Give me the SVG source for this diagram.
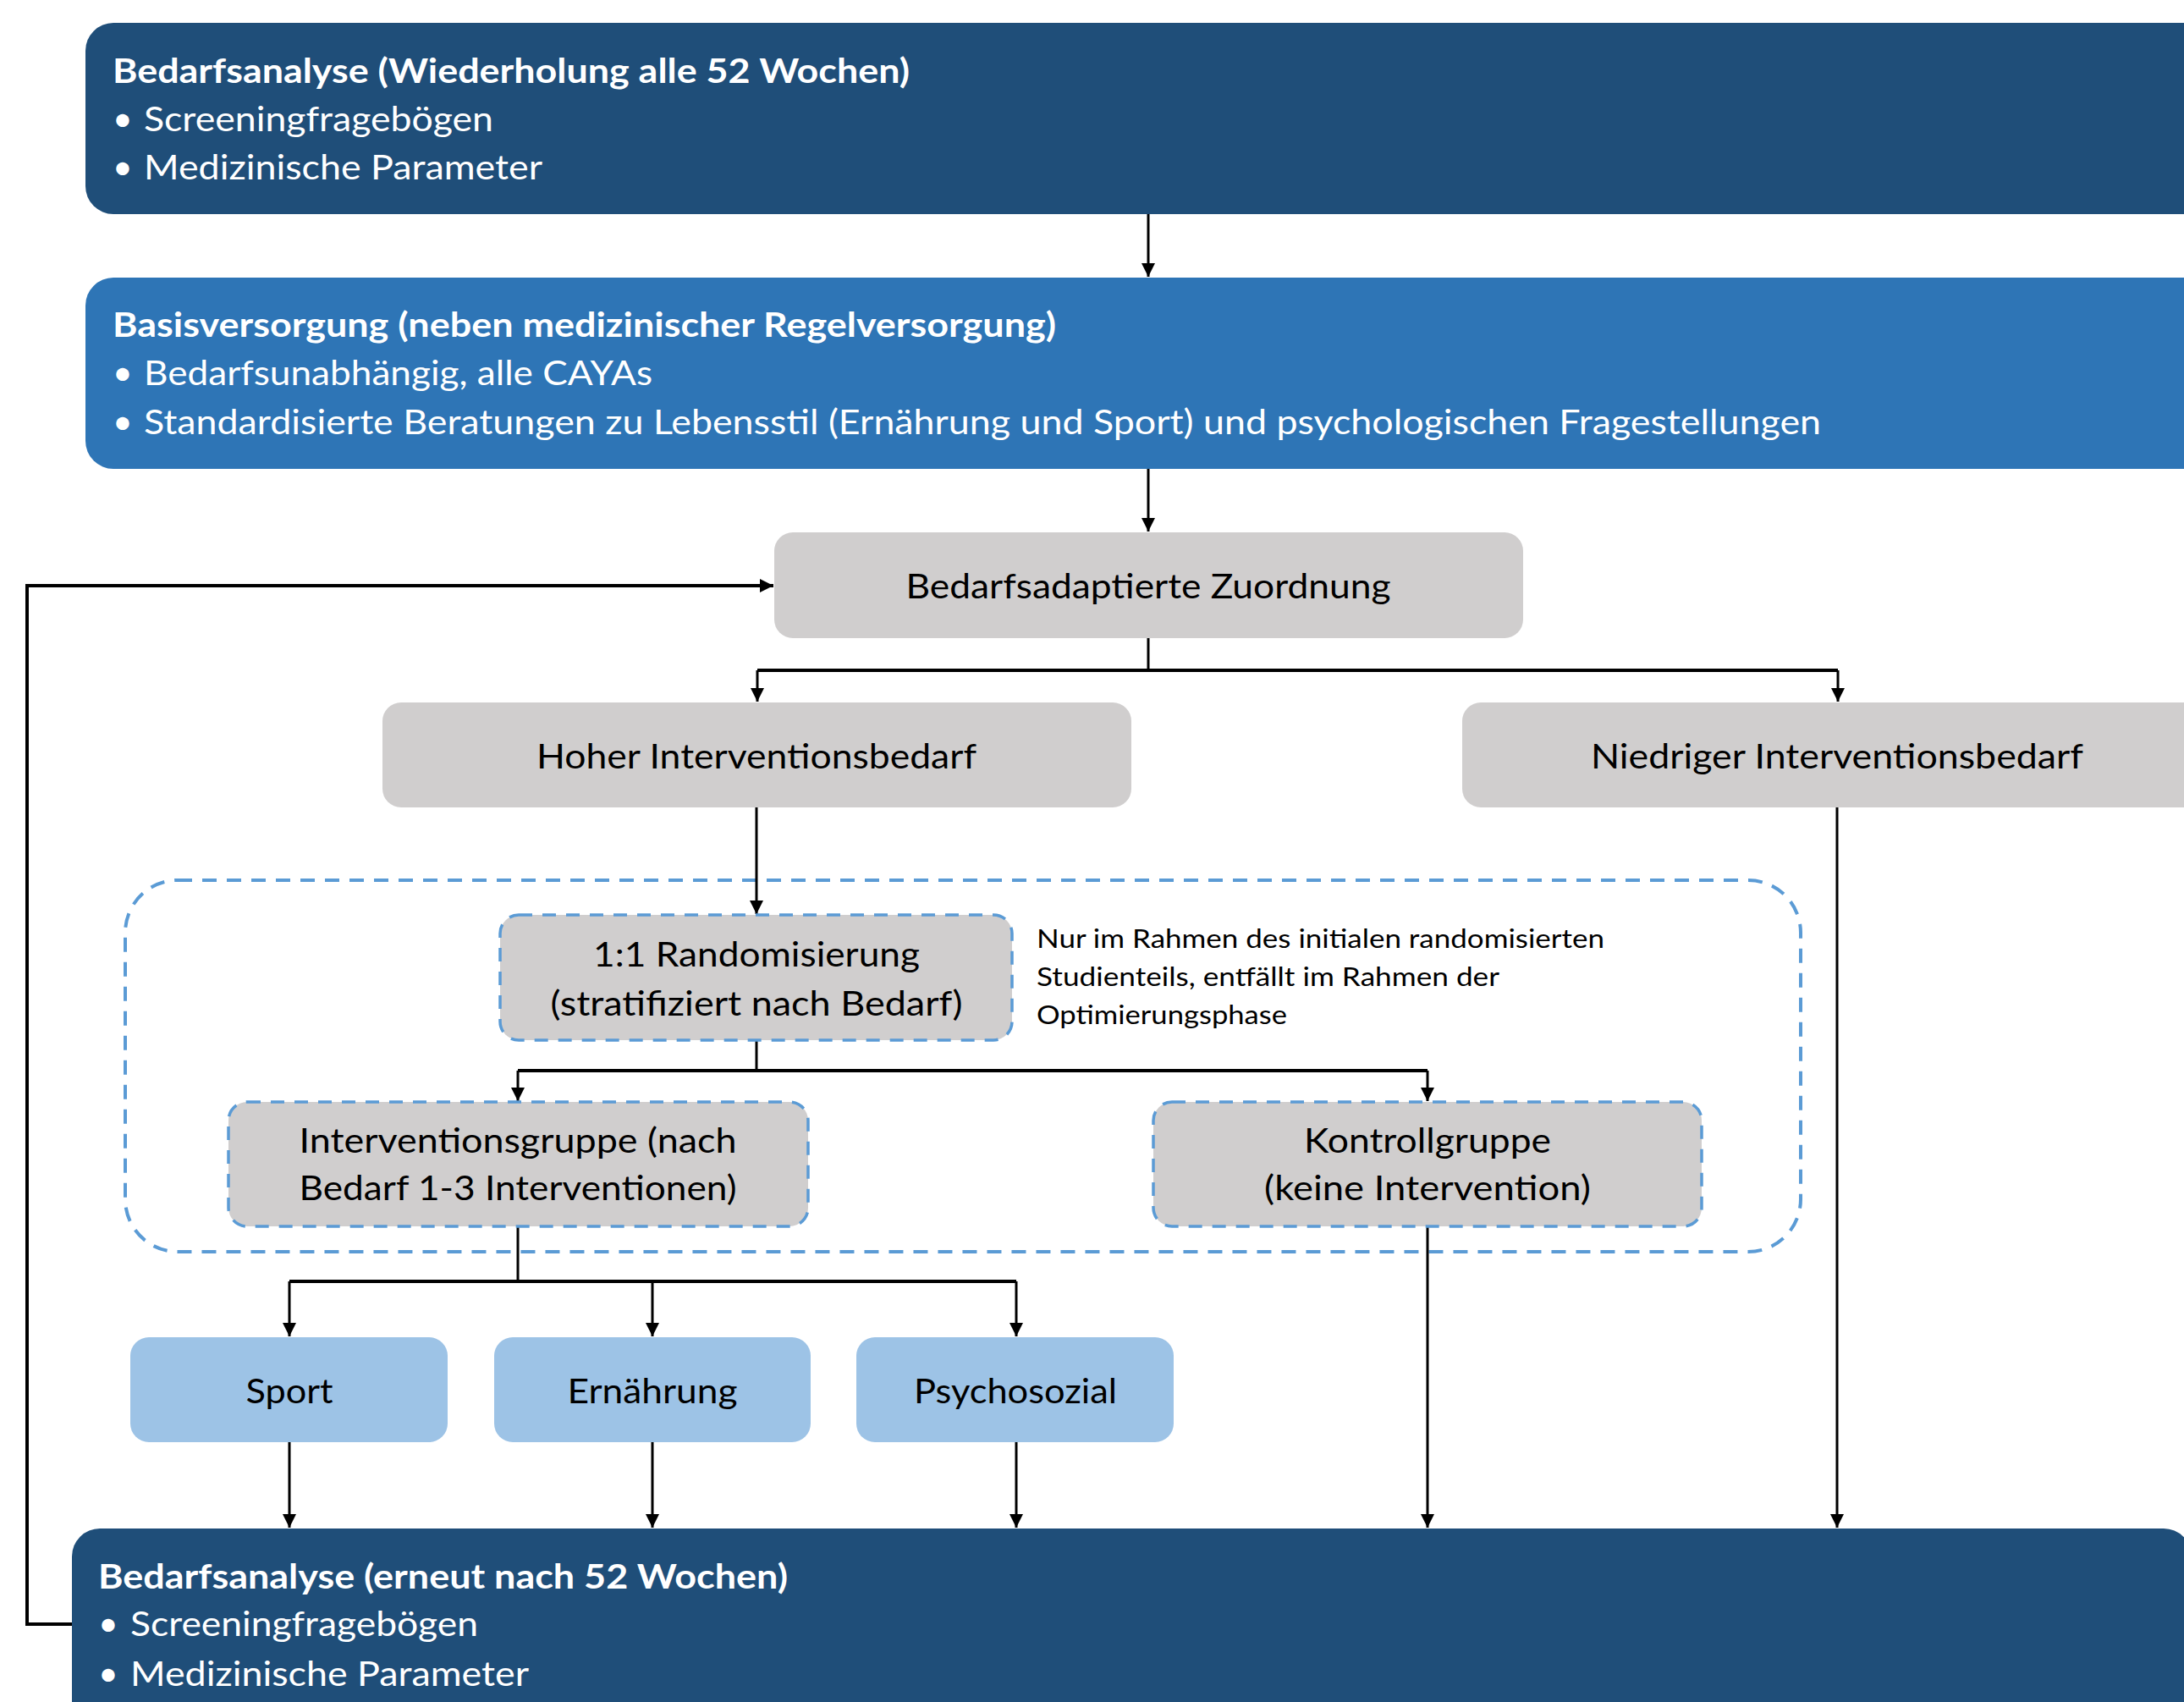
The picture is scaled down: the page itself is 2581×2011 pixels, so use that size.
<svg xmlns="http://www.w3.org/2000/svg" width="2581" height="2011" viewBox="0 0 2581 2011">
<defs>
<marker id="arr" viewBox="0 0 16 16" refX="16" refY="8" markerWidth="16" markerHeight="16" markerUnits="userSpaceOnUse" orient="auto"><path d="M0,0 L16,8 L0,16 z" fill="#000"/></marker>
<style>
text{font-family:Lato,"Open Sans","Liberation Sans",sans-serif;}
.w{fill:#fff;font-size:41px;}
.wb{fill:#fff;font-size:41px;font-weight:bold;}
.k{fill:#000;font-size:41px;text-anchor:middle;}
.s{fill:#000;font-size:30px;}
.dark{fill:#1F4E79;}
.mid{fill:#2E75B6;}
.gray{fill:#D0CECE;}
.lb{fill:#9DC3E6;}
.dash{fill:#D0CECE;stroke:#5B9BD5;stroke-width:3.5;stroke-dasharray:16 12;}
.c{fill:none;stroke:#000;stroke-width:3;}
.ca{fill:none;stroke:#000;stroke-width:3;marker-end:url(#arr);}
.t{fill:none;stroke:#000;stroke-width:4;}
</style>
</defs>
<rect width="2581" height="2011" fill="#fff"/>
<g id="container">
<rect x="148" y="1040" width="1980" height="439" rx="62" fill="none" stroke="#5B9BD5" stroke-width="4" stroke-dasharray="17 12"/>
</g>
<g id="connectors">
<path class="ca" d="M1357 253 V327"/>
<path class="ca" d="M1357 554 V628"/>
<path d="M85 1919 H32 V692 H914" fill="none" stroke="#000" stroke-width="4" marker-end="url(#arr)"/>
<path class="c" d="M1357 754 V792"/>
<path class="t" d="M895 792 H2172"/>
<path class="ca" d="M895 792 V829"/>
<path class="ca" d="M2172 792 V829"/>
<path class="ca" d="M894 954 V1080"/>
<path class="c" d="M894 1229 V1265"/>
<path class="t" d="M612 1265 H1687"/>
<path class="ca" d="M612 1265 V1301"/>
<path class="ca" d="M1687 1265 V1301"/>
<path class="c" d="M612 1449 V1514"/>
<path class="t" d="M342 1514 H1201"/>
<path class="ca" d="M342 1514 V1579"/>
<path class="ca" d="M771 1514 V1579"/>
<path class="ca" d="M1201 1514 V1579"/>
<path class="ca" d="M342 1704 V1805"/>
<path class="ca" d="M771 1704 V1805"/>
<path class="ca" d="M1201 1704 V1805"/>
<path class="ca" d="M1687 1449 V1805"/>
<path class="ca" d="M2171 954 V1805"/>
</g>
<g id="bedarfsanalyse-top">
<rect class="dark" x="101" y="27" width="2600" height="226" rx="33"/>
<text class="wb" x="133" y="98" textLength="942" lengthAdjust="spacingAndGlyphs">Bedarfsanalyse (Wiederholung alle 52 Wochen)</text>
<text class="w" x="133" y="155">•</text>
<text class="w" x="170" y="155" textLength="413" lengthAdjust="spacingAndGlyphs">Screeningfragebögen</text>
<text class="w" x="133" y="212">•</text>
<text class="w" x="170" y="212" textLength="471" lengthAdjust="spacingAndGlyphs">Medizinische Parameter</text>
</g>
<g id="basisversorgung">
<rect class="mid" x="101" y="328" width="2600" height="226" rx="33"/>
<text class="wb" x="133" y="398" textLength="1115" lengthAdjust="spacingAndGlyphs">Basisversorgung (neben medizinischer Regelversorgung)</text>
<text class="w" x="133" y="455">•</text>
<text class="w" x="170" y="455" textLength="601" lengthAdjust="spacingAndGlyphs">Bedarfsunabhängig, alle CAYAs</text>
<text class="w" x="133" y="513">•</text>
<text class="w" x="170" y="513" textLength="1982" lengthAdjust="spacingAndGlyphs">Standardisierte Beratungen zu Lebensstil (Ernährung und Sport) und psychologischen Fragestellungen</text>
</g>
<g id="zuordnung">
<rect class="gray" x="915" y="629" width="885" height="125" rx="22"/>
<text class="k" x="1357" y="707" textLength="573" lengthAdjust="spacingAndGlyphs">Bedarfsadaptierte Zuordnung</text>
</g>
<g id="hoher">
<rect class="gray" x="452" y="830" width="885" height="124" rx="22"/>
<text class="k" x="894" y="908" textLength="520" lengthAdjust="spacingAndGlyphs">Hoher Interventionsbedarf</text>
</g>
<g id="niedriger">
<rect class="gray" x="1728" y="830" width="900" height="124" rx="22"/>
<text class="k" x="2171" y="908" textLength="582" lengthAdjust="spacingAndGlyphs">Niedriger Interventionsbedarf</text>
</g>
<g id="randomisierung">
<rect class="dash" x="591" y="1081" width="605" height="148" rx="22"/>
<text class="k" x="894" y="1142" textLength="386" lengthAdjust="spacingAndGlyphs">1:1 Randomisierung</text>
<text class="k" x="894" y="1200" textLength="487" lengthAdjust="spacingAndGlyphs">(stratifiziert nach Bedarf)</text>
</g>
<g id="hinweis">
<text class="s" x="1225" y="1120" textLength="671" lengthAdjust="spacingAndGlyphs">Nur im Rahmen des initialen randomisierten</text>
<text class="s" x="1225" y="1165" textLength="547" lengthAdjust="spacingAndGlyphs">Studienteils, entfällt im Rahmen der</text>
<text class="s" x="1225" y="1210" textLength="296" lengthAdjust="spacingAndGlyphs">Optimierungsphase</text>
</g>
<g id="interventionsgruppe">
<rect class="dash" x="270" y="1302" width="685" height="147" rx="22"/>
<text class="k" x="612" y="1362" textLength="517" lengthAdjust="spacingAndGlyphs">Interventionsgruppe (nach</text>
<text class="k" x="612" y="1418" textLength="517" lengthAdjust="spacingAndGlyphs">Bedarf 1-3 Interventionen)</text>
</g>
<g id="kontrollgruppe">
<rect class="dash" x="1363" y="1302" width="648" height="147" rx="22"/>
<text class="k" x="1687" y="1362" textLength="292" lengthAdjust="spacingAndGlyphs">Kontrollgruppe</text>
<text class="k" x="1687" y="1418" textLength="386" lengthAdjust="spacingAndGlyphs">(keine Intervention)</text>
</g>
<g id="sport">
<rect class="lb" x="154" y="1580" width="375" height="124" rx="22"/>
<text class="k" x="342" y="1658" textLength="103" lengthAdjust="spacingAndGlyphs">Sport</text>
</g>
<g id="ernaehrung">
<rect class="lb" x="584" y="1580" width="374" height="124" rx="22"/>
<text class="k" x="771" y="1658" textLength="201" lengthAdjust="spacingAndGlyphs">Ernährung</text>
</g>
<g id="psychosozial">
<rect class="lb" x="1012" y="1580" width="375" height="124" rx="22"/>
<text class="k" x="1200" y="1658" textLength="240" lengthAdjust="spacingAndGlyphs">Psychosozial</text>
</g>
<g id="bedarfsanalyse-bottom">
<rect class="dark" x="85" y="1806" width="2505" height="262" rx="33"/>
<text class="wb" x="116" y="1877" textLength="815" lengthAdjust="spacingAndGlyphs">Bedarfsanalyse (erneut nach 52 Wochen)</text>
<text class="w" x="116" y="1933">•</text>
<text class="w" x="154" y="1933" textLength="411" lengthAdjust="spacingAndGlyphs">Screeningfragebögen</text>
<text class="w" x="116" y="1992">•</text>
<text class="w" x="154" y="1992" textLength="471" lengthAdjust="spacingAndGlyphs">Medizinische Parameter</text>
</g>
</svg>
